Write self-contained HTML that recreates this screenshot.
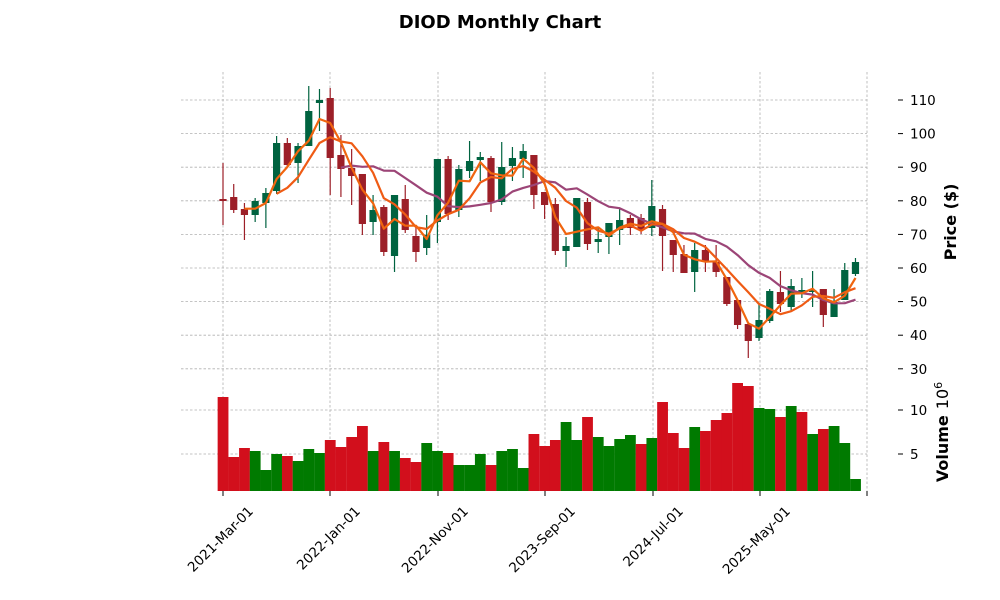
<!DOCTYPE html>
<html><head><meta charset="utf-8"><style>
body{margin:0;background:#fff;}
svg{display:block;font-family:"DejaVu Sans","Liberation Sans",sans-serif;}
</style></head><body>
<svg id="s" width="1000" height="600" xmlns="http://www.w3.org/2000/svg">
<rect width="1000" height="600" fill="#fff"/>
<text x="500" y="28" text-anchor="middle" font-size="18" font-weight="bold">DIOD Monthly Chart</text>
<g id="grid" stroke="#b0b0b0" stroke-width="0.8" stroke-dasharray="2.5,2"></g>
<g id="vol"></g>
<g id="cand"></g>
<g id="ma" fill="none" stroke-width="2.2" stroke-linejoin="round"></g>
<g stroke="#000" stroke-width="1">
<line x1="898" x2="903" y1="100" y2="100"/><line x1="898" x2="903" y1="133.6" y2="133.6"/><line x1="898" x2="903" y1="167.2" y2="167.2"/><line x1="898" x2="903" y1="200.8" y2="200.8"/><line x1="898" x2="903" y1="234.4" y2="234.4"/><line x1="898" x2="903" y1="268" y2="268"/><line x1="898" x2="903" y1="301.6" y2="301.6"/><line x1="898" x2="903" y1="335.2" y2="335.2"/><line x1="898" x2="903" y1="368.8" y2="368.8"/>
<line x1="898" x2="903" y1="410" y2="410"/><line x1="898" x2="903" y1="454" y2="454"/>
<line x1="223" x2="223" y1="491" y2="496"/><line x1="330" x2="330" y1="491" y2="496"/><line x1="438" x2="438" y1="491" y2="496"/><line x1="545" x2="545" y1="491" y2="496"/><line x1="653" x2="653" y1="491" y2="496"/><line x1="760" x2="760" y1="491" y2="496"/><line x1="867" x2="867" y1="491" y2="496"/>
</g>
<g font-size="13.5" fill="#000">
<text x="910" y="105">110</text><text x="910" y="138.6">100</text><text x="910" y="172.2">90</text><text x="910" y="205.8">80</text><text x="910" y="239.4">70</text><text x="910" y="273">60</text><text x="910" y="306.6">50</text><text x="910" y="340.2">40</text><text x="910" y="373.8">30</text>
<text x="910" y="415">10</text><text x="910" y="459">5</text>
</g>
<g font-size="13.5" text-anchor="end">
<text transform="translate(254,512) rotate(-45)">2021-Mar-01</text>
<text transform="translate(361,512) rotate(-45)">2022-Jan-01</text>
<text transform="translate(469,512) rotate(-45)">2022-Nov-01</text>
<text transform="translate(576,512) rotate(-45)">2023-Sep-01</text>
<text transform="translate(684,512) rotate(-45)">2024-Jul-01</text>
<text transform="translate(791,512) rotate(-45)">2025-May-01</text>
</g>
<text transform="translate(956,222) rotate(-90)" text-anchor="middle" font-size="16" font-weight="bold">Price ($)</text>
<text transform="translate(948,432) rotate(-90)" text-anchor="middle" font-size="16"><tspan font-weight="bold">Volume</tspan><tspan dx="6">10</tspan><tspan dy="-6" font-size="11">6</tspan></text>
</svg>
<script>
var NS="http://www.w3.org/2000/svg";
function el(p,t,a){var e=document.createElementNS(NS,t);for(var k in a)e.setAttribute(k,a[k]);p.appendChild(e);return e;}
var g=document.getElementById('grid');
[100,133.6,167.2,200.8,234.4,268,301.6,335.2,368.8,410,454].forEach(function(y){el(g,'line',{x1:181,x2:867,y1:y,y2:y});});
[223,330,438,545,653,760,867].forEach(function(x){el(g,'line',{x1:x,x2:x,y1:72,y2:491});});
var C=[[199,201,163,225],[197,210,184,213],[209,215,203,240],[215,201,198,222],[203,193,188,228],[191,143,136,194],[143,165,138,167],[163,146,143,183],[146,111,86,146],[103,100,89,131],[98,158,88,195],[155,169,135,197],[168,176,149,205],[174,224,174,235],[222,210,195,235],[207,252,205,256],[256,195,195,272],[199,230,185,233],[236,252,228,262],[248,235,215,255],[222,159,159,243],[159,214,156,220],[210,169,165,217],[171,161,141,178],[160,157,152,181],[158,202,156,212],[202,167,142,205],[166,158,147,181],[159,151,144,178],[155,195,155,209],[192,205,192,219],[204,251,198,255],[251,246,237,267],[247,198,198,247],[202,244,198,250],[241,240,227,253],[237,223,223,254],[230,220,208,245],[218,228,215,235],[218,230,214,234],[228,206,180,236],[209,236,205,271],[240,255,240,272],[254,273,245,273],[272,250,243,292],[250,262,245,272],[262,272,245,277],[277,304,277,306],[300,325,300,329],[324,341,324,358],[338,320,303,341],[321,291,289,323],[292,304,271,312],[307,286,279,312],[292,290,278,298],[292,290,271,307],[289,315,289,327],[317,302,289,317],[300,270,263,300],[274,262,258,276]];
var V=[[397,0],[457,0],[448,0],[451,1],[470,1],[454,1],[456,0],[461,1],[449,1],[453,1],[440,0],[447,0],[437,0],[426,0],[451,1],[442,0],[451,1],[458,0],[462,0],[443,1],[451,1],[453,0],[465,1],[465,1],[454,1],[465,0],[451,1],[449,1],[468,1],[434,0],[446,0],[440,0],[422,1],[440,1],[417,0],[437,1],[446,1],[439,1],[435,1],[444,0],[438,1],[402,0],[433,0],[448,0],[427,1],[431,0],[420,0],[413,0],[383,0],[386,0],[408,1],[409,1],[417,0],[406,1],[412,0],[434,1],[429,0],[426,1],[443,1],[479,1]];
var vg=document.getElementById('vol'),cg=document.getElementById('cand'),mg=document.getElementById('ma');
function X(i){return 223+i*10.72;}
V.forEach(function(v,i){el(vg,'rect',{x:X(i)-5.36,y:v[0],width:10.8,height:491-v[0],fill:v[1]?'#007a00':'#d20f1c'});});
C.forEach(function(c,i){var up=c[1]<c[0];var col=up?'#006340':'#9c1f28';var x=X(i);
el(cg,'line',{x1:x,x2:x,y1:c[2],y2:c[3],stroke:col,'stroke-width':1.2});
var t=Math.min(c[0],c[1]),b=Math.max(c[0],c[1]);if(b-t<2){t-=1;b+=1;}
el(cg,'rect',{x:x-3.6,y:t,width:7.2,height:b-t,fill:col});});
function ma(n,col){var pts=[];for(var i=n-1;i<C.length;i++){var s=0;for(var j=i-n+1;j<=i;j++)s+=C[j][1];pts.push(X(i).toFixed(1)+','+(s/n).toFixed(1));}
el(mg,'polyline',{points:pts.join(' '),stroke:col});}
ma(12,'#9c4577');ma(6,'#ef5b14');ma(3,'#f0650f');
</script>
</body></html>
